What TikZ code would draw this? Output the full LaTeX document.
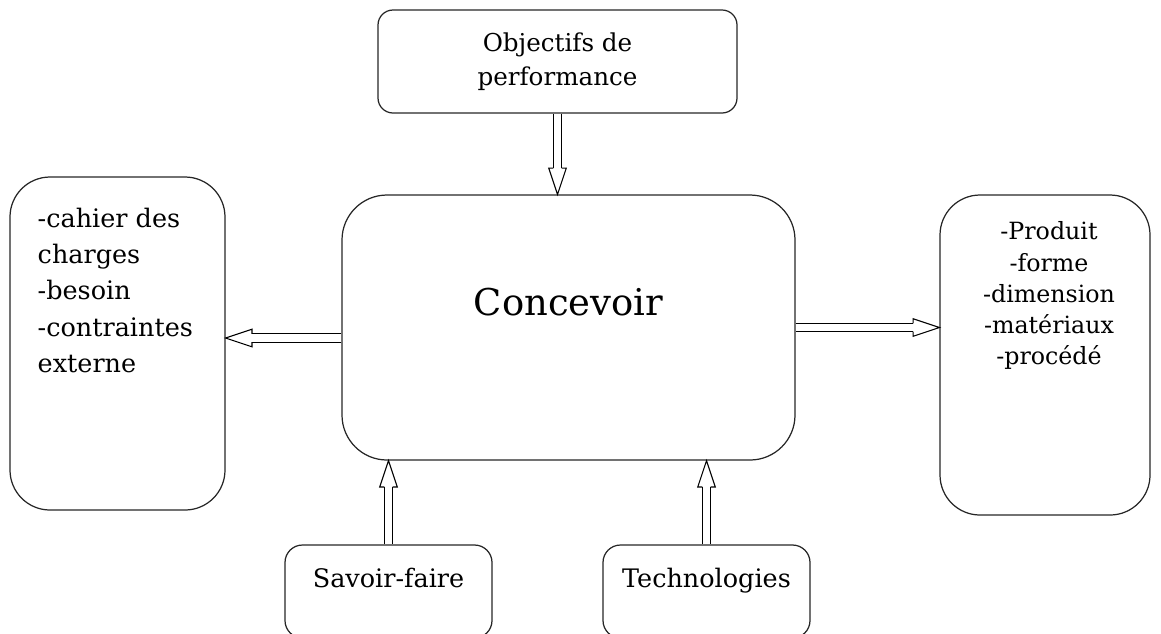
\documentclass[tikz,border=0pt]{standalone}
\usepackage{tikz}
\usepackage{fontspec}
\setmainfont{DejaVu Serif}
\usetikzlibrary{calc}

% fleche creuse (double trait + tete ouverte)
\newcommand{\flechecreuse}[2]{%
  \draw[double, double distance=4pt, line width=.6pt, shorten >=15pt] (#1) -- (#2);
  \draw[line width=.6pt, line join=miter]
    ($(#2)!15pt!(#1)!2.3pt!90:(#1)$) -- ($(#2)!15pt!(#1)!5pt!90:(#1)$) -- (#2)
    -- ($(#2)!15pt!(#1)!5pt!-90:(#1)$) -- ($(#2)!15pt!(#1)!2.3pt!-90:(#1)$);
}

\begin{document}
\begin{tikzpicture}[
  boite/.style={draw=black!85, line width=.7pt, inner sep=0pt},
  texte/.style={inner sep=0pt, font=\fontsize{14.5}{20.7}\selectfont}
]
\useasboundingbox (0,0) rectangle (23.22,-12.66);

\node[boite, rounded corners=.3cm, minimum width=7.18cm, minimum height=2.06cm, align=center,
  font=\fontsize{14}{19.5}\selectfont] (obj) at (11.15,-1.23) {Objectifs de\\performance};

\node[boite, rounded corners=.9cm, minimum width=9.06cm, text height=2.4cm, text depth=2.9cm,
  font=\fontsize{21}{26}\selectfont] (conc) at (11.37,-6.55) {Concevoir};

\node[boite, rounded corners=.8cm, minimum width=4.3cm, minimum height=6.66cm] (gauche) at (2.35,-6.87) {};
\node[texte, anchor=north west, align=left] (gaucheTxt) at ([xshift=.56cm, yshift=-.62cm]gauche.north west)
  {-cahier des\\charges\\-besoin\\-contraintes\\externe};

\node[boite, rounded corners=.8cm, minimum width=4.2cm, minimum height=6.4cm] (droite) at (20.9,-7.1) {};
\node[texte, anchor=north, align=center, font=\fontsize{13.5}{17.8}\selectfont] (droiteTxt)
  at ([xshift=.08cm, yshift=-.54cm]droite.north)
  {-Produit\\-forme\\-dimension\\-mat\'eriaux\\-proc\'ed\'e};

\begin{scope}[font=\fontsize{14.5}{20}\selectfont]
\node[boite, rounded corners=.35cm, minimum width=4.14cm, text height=.84cm, text depth=1.02cm] (savoir) at (7.77,-11.83) {Savoir-faire};
\node[boite, rounded corners=.35cm, minimum width=4.14cm, text height=.84cm, text depth=1.02cm] (techno) at (14.13,-11.83) {Technologies};
\end{scope}

\coordinate (haut) at (obj.south |- conc.north);
\coordinate (gdep) at ([yshift=-.21cm]conc.west);
\coordinate (gfin) at (gauche.east |- gdep);
\coordinate (dfin) at (droite.west |- conc.east);
\coordinate (sfin) at (savoir.north |- conc.south);
\coordinate (tfin) at (techno.north |- conc.south);

\flechecreuse{obj.south}{haut}
\flechecreuse{gdep}{gfin}
\flechecreuse{conc.east}{dfin}
\flechecreuse{savoir.north}{sfin}
\flechecreuse{techno.north}{tfin}
\end{tikzpicture}
\end{document}
